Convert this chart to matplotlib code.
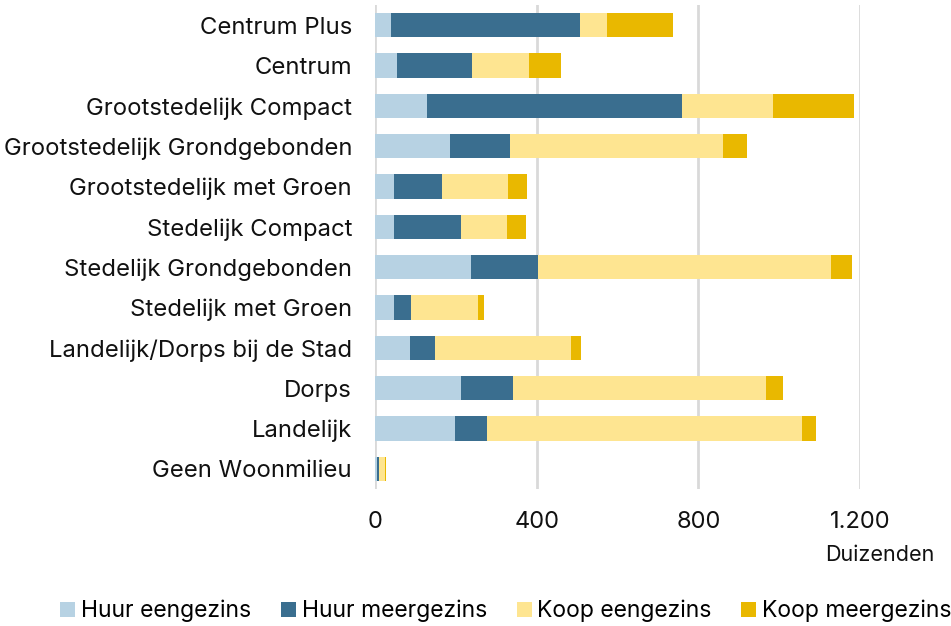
import matplotlib
matplotlib.use("Agg")
import matplotlib.pyplot as plt
from matplotlib.ticker import FuncFormatter
import numpy as np

plt.rcParams['font.family'] = ['Inter', 'DejaVu Sans']

categories = ["Centrum Plus", "Centrum", "Grootstedelijk Compact",
              "Grootstedelijk Grondgebonden", "Grootstedelijk met Groen",
              "Stedelijk Compact", "Stedelijk Grondgebonden", "Stedelijk met Groen",
              "Landelijk/Dorps bij de Stad", "Dorps", "Landelijk", "Geen Woonmilieu"]
huur_eengezins = [40, 54, 129, 185, 48, 47, 238, 47, 87, 214, 199, 4]
huur_meergezins = [468, 187, 630, 149, 119, 165, 166, 42, 61, 127, 77, 5]
koop_eengezins = [66, 141, 226, 527, 162, 114, 725, 165, 338, 627, 781, 16]
koop_meergezins = [163, 78, 201, 59, 47, 47, 52, 16, 24, 41, 35, 2]
series_names = ["Huur eengezins", "Huur meergezins", "Koop eengezins", "Koop meergezins"]
colors = ["#b7d2e3", "#3a6e8f", "#fee591", "#e9b800"]
xticks = [0, 400, 800, 1200]

fig = plt.figure(figsize=(9.51, 6.26), dpi=100)
ax = fig.add_axes([375/951, 1-489/626, (860-375)/951, 484/626])

y = np.arange(len(categories))
left = np.zeros(len(categories))
for vals, name, c in zip([huur_eengezins, huur_meergezins, koop_eengezins, koop_meergezins], series_names, colors):
    ax.barh(y, vals, left=left, height=0.6, color=c, label=name, zorder=3)
    left += np.array(vals)

ax.set_ylim(len(categories)-0.5, -0.5)
ax.set_xlim(0, 1200)
ax.set_yticks(y)
ax.set_yticklabels(categories, fontsize=17.2, color="#111111")
ax.set_xticks(xticks)
ax.xaxis.set_major_formatter(FuncFormatter(lambda v, p: f"{int(v):,}".replace(",", ".")))
ax.tick_params(axis='x', labelsize=17, length=0, pad=16, colors="#111111")
ax.tick_params(axis='y', length=0, pad=16.5)
ax.grid(axis='x', color="#d9d9d9", linewidth=2, zorder=0)
for s in ax.spines.values():
    s.set_visible(False)

fig.text(880/951, 1-555/626, "Duizenden", fontsize=15.5, ha='center', va='center', color="#111111")

handles, labels = ax.get_legend_handles_labels()
fig.legend(handles, labels, loc='center', bbox_to_anchor=(506/951, 1-611/626), ncol=4,
           frameon=False, fontsize=16.5, handlelength=0.65, handleheight=0.65,
           handletextpad=0.25, columnspacing=1.3, borderaxespad=0)

fig.savefig("out.png", dpi=100)
